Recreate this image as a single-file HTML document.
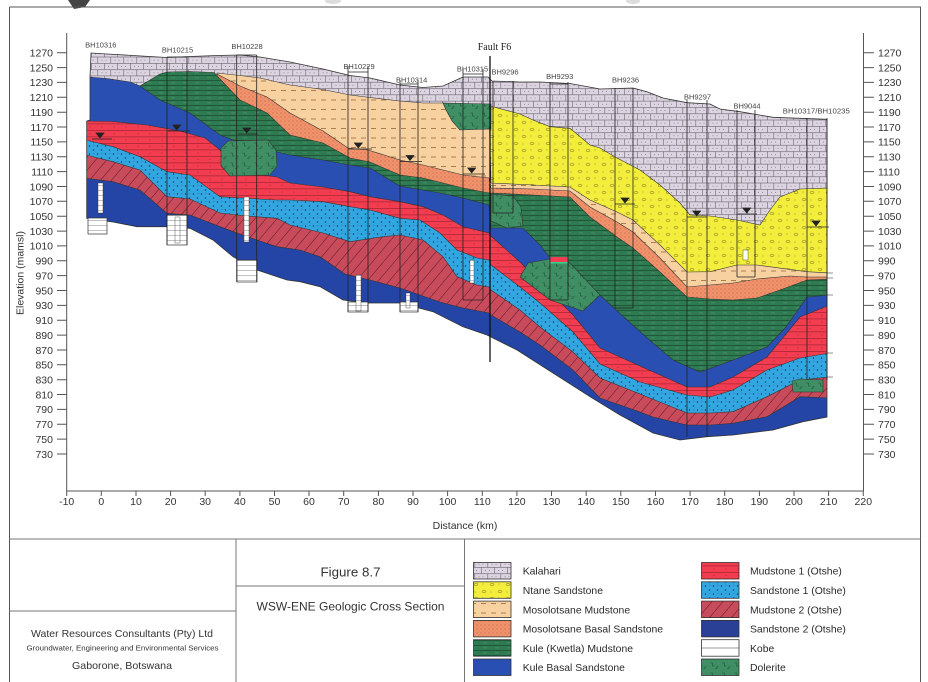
<!DOCTYPE html>
<html><head><meta charset="utf-8"><style>html,body{margin:0;padding:0;background:#fff}svg{display:block}</style></head>
<body>
<svg width="928" height="682" viewBox="0 0 928 682" xmlns="http://www.w3.org/2000/svg" font-family="Liberation Sans, Arial, sans-serif">
<defs>
<pattern id="pK" width="26" height="12.6" patternUnits="userSpaceOnUse">
<rect width="26" height="12.6" fill="#dcd4e0"/>
<path d="M0 0.3H26M0 6.6H26M0.3 0V6.3M13.3 0V6.3M6.8 6.3V12.6M19.8 6.3V12.6" stroke="#6b6670" stroke-width="0.6" fill="none"/>
<path d="M4 3.5h1M8 3.5h1M17 3.5h1M21 3.5h1M10.5 9.8h1M14.5 9.8h1M23.5 9.8h1M1.5 9.8h1" stroke="#7a7580" stroke-width="0.8"/>
</pattern>
<pattern id="pY" width="16" height="14" patternUnits="userSpaceOnUse">
<rect width="16" height="14" fill="#f3ee3c"/>
<ellipse cx="4" cy="3.5" rx="2" ry="1.1" fill="none" stroke="#7a7020" stroke-width="0.5"/>
<ellipse cx="12" cy="10.5" rx="2" ry="1.1" fill="none" stroke="#7a7020" stroke-width="0.5"/>
<circle cx="11" cy="4" r="0.5" fill="#7a7020"/><circle cx="3" cy="10" r="0.5" fill="#7a7020"/>
</pattern>
<pattern id="pT" width="10" height="9.5" patternUnits="userSpaceOnUse"><rect width="10" height="9.5" fill="#f8d1a0"/><path d="M1 5H6" stroke="#8b5a2b" stroke-width="0.7"/></pattern>
<pattern id="pO" width="4" height="4" patternUnits="userSpaceOnUse"><rect width="4" height="4" fill="#f0936c"/><circle cx="1" cy="1" r="0.5" fill="#a4492e"/><circle cx="3" cy="3" r="0.4" fill="#c46a4a"/></pattern>
<pattern id="pG" width="12" height="5" patternUnits="userSpaceOnUse"><rect width="12" height="5" fill="#2e7b52"/><path d="M0 0.4H12" stroke="#1a4a30" stroke-width="0.7"/><path d="M3 2.9H7" stroke="#5c9a76" stroke-width="0.5"/></pattern>
<pattern id="pR" width="12" height="6.5" patternUnits="userSpaceOnUse"><rect width="12" height="6.5" fill="#f23d50"/><path d="M0 0.4H12" stroke="#9a1f2e" stroke-width="0.6"/><circle cx="6" cy="3.5" r="0.45" fill="#9a1f2e"/></pattern>
<pattern id="pC" width="8" height="8" patternUnits="userSpaceOnUse"><rect width="8" height="8" fill="#31a7e1"/><circle cx="1.5" cy="2" r="0.75" fill="#123a6e"/><circle cx="5.5" cy="6" r="0.75" fill="#123a6e"/><circle cx="6" cy="1.5" r="0.4" fill="#123a6e"/></pattern>
<pattern id="pD" width="11" height="13" patternUnits="userSpaceOnUse"><rect width="11" height="13" fill="#c84b5b"/><path d="M0 13L11 0" stroke="#6e2030" stroke-width="0.6"/></pattern>
<pattern id="pDo" width="12" height="10" patternUnits="userSpaceOnUse"><rect width="12" height="10" fill="#3f8e64"/><path d="M2 3h2.5v3h2.5" stroke="#1e5538" stroke-width="0.6" fill="none"/><path d="M7 8.5h2v-2h1.5" stroke="#1e5538" stroke-width="0.6" fill="none"/></pattern>
<pattern id="pW" width="6" height="5" patternUnits="userSpaceOnUse"><rect width="6" height="5" fill="#fff"/><path d="M0 0.5H6" stroke="#999" stroke-width="0.6"/></pattern>
<clipPath id="sec"><polygon points="91,53 107,54 133,55.5 150,56.5 167,57.5 190,56.5 217,55.5 240,55 260,57 290,62 323,69 350,75.5 370,78 400,85 423,87.5 443,86 463,77 488,77 492,81 520,82 540,82 570,83.5 600,89 633,88 647,91.7 663,98 687,102.7 710,104 720,109 740,111.7 773,117.3 800,118.3 827,119.3 827,417 803,421.7 773,430 733,435 707,436.7 680,440 653,433 620,415 590,396.7 553,373 517,350 487,335 463,326.7 433,311.7 400,303 367,303 343,300 320,286.7 300,281.7 287,280 257,270 233,256.7 213,240 190,228.3 167,226.7 137,226.7 113,222 86.7,218.3 86.7,121 90,120 90,77"/></clipPath>
</defs>
<rect width="928" height="682" fill="#fff"/>
<!-- top logo remnants -->
<path d="M68 0H90L85 7L74 9Z" fill="#444"/>
<ellipse cx="333" cy="1" rx="8" ry="3" fill="#ddd"/>
<ellipse cx="633" cy="1" rx="7" ry="3" fill="#ddd"/>
<!-- frame -->
<g stroke="#555" stroke-width="1" fill="none">
<path d="M9.5 7H921M9.5 7V682M920.5 7V682"/>
<path d="M9.5 539H920.5M236 539V682M464.5 539V682M9.5 611H236M236 586H464.5" stroke="#777"/>
</g>
<!-- section -->
<g clip-path="url(#sec)" stroke="#333" stroke-width="0.6">
<rect x="80" y="40" width="760" height="420" fill="url(#pK)" stroke="none"/>
<polygon fill="url(#pY)" points="490,106 520,114 533,120 550,126.7 570,128.3 590,145 600,148 617,158 640,170 660,185 680,203 690,215 710,216 737,220 760,225 770,210 780,197 800,189 830,188 830,460 490,460"/>
<polygon fill="url(#pT)" points="217,73 240,75.5 260,78 290,85 323,89.5 350,95 370,97.5 400,101 423,103 443,103 463,104 489,105 491,183 533,185 570,187 590,200 617,212 633,220 660,245 687,272 710,271.7 737,265 757,265 807,271.7 830,273 830,460 217,460"/>
<polygon fill="url(#pO)" points="217,74 240,86 267,97 290,113 323,131 348,148 368,150 400,160 423,165 463,175 489,178 491,188 533,189 570,191 590,207 617,222 633,232 660,258 687,287 733,283 757,279 790,276 807,277 830,277 830,460 217,460"/>
<polygon fill="url(#pG)" points="140,86 150,80 160,74 167,72 190,71.5 214,72.5 240,100 267,113 290,135 323,143 350,158 370,162 400,175 423,178 463,188 489,193 491,193 533,195 570,197 590,217 617,237 633,248 660,272 687,297 710,299 733,300 757,298 780,290 807,280 830,279 830,460 140,460"/>
<polygon fill="#2a4fb3" points="88,77 107,78.5 130,82 140,86 160,100 190,113 220,135 233,140 260,143 277,152 290,155 323,160 350,165 370,168 400,186 440,193 463,198 489,205 491,228 523,228 540,245 550,258 600,295 627,320 653,343 673,360 700,372 733,360 767,347 786,327 800,307 807,297 830,295 830,460 86,460"/>
<polygon fill="url(#pR)" points="86,121 113,121.5 147,125 180,131 205,138 220,150 240,172 277,177 290,183 323,187 350,191.7 370,196.7 400,201.7 423,206.7 443,215 463,226.7 489,233 491,236 520,262 540,282 573,315 600,348 640,366 687,387 710,387 733,377 767,357 800,317 830,305 830,460 86,460"/>
<polygon fill="url(#pC)" points="86,140 113,146.7 140,156.7 167,171.7 190,175 220,196.7 247,198.3 277,200 290,200 323,201.7 350,206.7 370,210 400,218.3 420,220 440,233 457,250 477,258 489,260 491,265 520,287 540,303 573,332 600,364 640,382 687,395 710,397 733,390 767,370 800,358 830,353 830,460 86,460"/>
<polygon fill="url(#pD)" points="86,155 113,161.7 140,170 167,196.7 190,199 220,213 247,216 277,218.3 290,225 323,233 350,241.7 383,236.7 400,235 423,240 443,256.7 457,276.7 477,285 489,287 491,290 520,310 540,327 573,352 600,378 640,394 687,413 710,413 733,411.7 767,396.7 800,380 830,377 830,460 86,460"/>
<polygon fill="#2445a6" points="86,178.3 113,181.7 140,190 167,213.3 190,215 220,226.7 247,236.7 277,246.7 300,250 320,256.7 345,274 370,280 400,288 440,302 463,308 489,313 491,315 520,332 540,345 573,370 600,398 620,405 640,412 653,417 687,425 710,425 733,423.3 767,416.7 800,396.7 830,398 830,460 86,460"/>
<polygon fill="url(#pDo)" points="221,148 228,141 268,140 276,150 277,166 270,175 230,176 221,166"/>
<polygon fill="url(#pDo)" points="443,103 491,104 491,129 460,130 452,121 446,110"/>
<polygon fill="url(#pDo)" points="491,194 513,196 521,207 523,226 507,228 491,221"/>
<polygon fill="url(#pDo)" points="520,277 528,263 550,259 570,263 600,295 583,311 550,300"/>
<polygon fill="url(#pDo)" points="792,381 800,379 823,380 823,392 793,392"/>
<rect x="550" y="257" width="18" height="5" fill="#f23d50" stroke="none"/>
<rect x="550" y="262" width="18" height="1.5" fill="#3fcf8a" stroke="none"/>
</g>
<polygon fill="none" stroke="#333" stroke-width="0.8" points="91,53 107,54 133,55.5 150,56.5 167,57.5 190,56.5 217,55.5 240,55 260,57 290,62 323,69 350,75.5 370,78 400,85 423,87.5 443,86 463,77 488,77 492,81 520,82 540,82 570,83.5 600,89 633,88 647,91.7 663,98 687,102.7 710,104 720,109 740,111.7 773,117.3 800,118.3 827,119.3 827,417 803,421.7 773,430 733,435 707,436.7 680,440 653,433 620,415 590,396.7 553,373 517,350 487,335 463,326.7 433,311.7 400,303 367,303 343,300 320,286.7 300,281.7 287,280 257,270 233,256.7 213,240 190,228.3 167,226.7 137,226.7 113,222 86.7,218.3 86.7,121 90,120 90,77"/>
<!-- kobe boxes & white bars -->
<g stroke="#333" stroke-width="0.7">
<rect x="88" y="218" width="19" height="16" fill="url(#pW)"/>
<rect x="167" y="215" width="20" height="30" fill="url(#pW)"/>
<rect x="237" y="260" width="20" height="22" fill="url(#pW)"/>
<rect x="348" y="302" width="20" height="10" fill="url(#pW)"/>
<rect x="400" y="302" width="18" height="10" fill="url(#pW)"/>
<rect x="98" y="183" width="5" height="30" fill="url(#pW)" stroke-width="0.4"/>
<rect x="175" y="217" width="5" height="26" fill="url(#pW)" stroke-width="0.4"/>
<rect x="244" y="197" width="5" height="45" fill="url(#pW)" stroke-width="0.4"/>
<rect x="356" y="275" width="5" height="36" fill="url(#pW)" stroke-width="0.4"/>
<rect x="406" y="293" width="4" height="15" fill="url(#pW)" stroke-width="0.4"/>
<rect x="470" y="260" width="4" height="23" fill="url(#pW)" stroke-width="0.4"/>
<rect x="743" y="250" width="5" height="10" fill="#fff" stroke-width="0.4"/>
</g>
<!-- borehole lines -->
<g stroke="#222" stroke-width="0.8" fill="none">
<path d="M167 57V245M187 57V245M167 57H187"/>
<path d="M236.7 55V282M256.7 55V282M236.7 55H256.7"/>
<path d="M348 66V312M368 66V312M348 72H368"/>
<path d="M400 80V312M418 80V312M400 84H418"/>
<path d="M463 69V300M483 69V300M463 74H483M463 300H483"/>
<path d="M493 81V213M513 81V213M493 213H513"/>
<path d="M550 82V300M568 82V300M550 84H568M550 300H568"/>
<path d="M615 88V308M633 88V308M615 308H633"/>
<path d="M687 100V437M707 100V437"/>
<path d="M737 110V277M755 110V277M737 277H755"/>
<path d="M807 118V380M827 118V380"/>
<path d="M827 273H833M827 278H833M827 295H833M827 353H833M827 377H833" stroke-width="0.6"/>
</g>
<!-- fault -->
<path d="M490 56V362" stroke="#111" stroke-width="1.3"/>
<!-- water levels -->
<g fill="#222" stroke="#222" stroke-width="0.7">
<path d="M96 133H104L100 138Z"/><path d="M92 139H112" fill="none"/>
<path d="M172.7 125H180.7L176.7 130Z"/><path d="M168 131H190" fill="none"/>
<path d="M242.7 128H250.7L246.7 133Z"/><path d="M238 134H258" fill="none"/>
<path d="M354.3 143H362.3L358.3 148Z"/><path d="M348 149H372" fill="none"/>
<path d="M406 155.5H414L410 160.5Z"/><path d="M400 161.5H422" fill="none"/>
<path d="M467.7 168H475.7L471.7 173Z"/><path d="M463 174H485" fill="none"/>
<path d="M621 198H629L625 203Z"/><path d="M615 204H635" fill="none"/>
<path d="M692.7 211H700.7L696.7 216Z"/><path d="M687 217H707" fill="none"/>
<path d="M742.7 208H750.7L746.7 213Z"/><path d="M737 214H757" fill="none"/>
<path d="M812 221H820L816 226Z"/><path d="M807 227H829" fill="none"/>
</g>
<!-- borehole labels -->
<g font-size="7.5" fill="#444" text-anchor="middle">
<text x="100.8" y="47.3">BH10316</text>
<text x="177.5" y="52.7">BH10215</text>
<text x="247" y="49">BH10228</text>
<text x="359" y="69">BH10229</text>
<text x="411.7" y="82.7">BH10314</text>
<text x="472.5" y="71.7">BH10315</text>
<text x="505" y="74.3">BH9296</text>
<text x="559.7" y="79">BH9293</text>
<text x="625.5" y="82.7">BH9236</text>
<text x="697.5" y="99.3">BH9297</text>
<text x="747" y="108.3">BH9044</text>
<text x="816.3" y="113.3" textLength="67" lengthAdjust="spacingAndGlyphs">BH10317/BH10235</text>
</g>
<text x="494.5" y="50" font-family="Liberation Serif, serif" font-size="10" fill="#222" text-anchor="middle">Fault F6</text>
<!-- axes -->
<g stroke="#555" stroke-width="1" fill="none">
<path d="M66.7 33V491M863.5 33V491M66.7 491H863.5"/>
<path d="M57 52.7H67M57 67.6H67M57 82.4H67M57 97.3H67M57 112.2H67M57 127H67M57 141.9H67M57 156.7H67M57 171.6H67M57 186.5H67M57 201.3H67M57 216.2H67M57 231.1H67M57 245.9H67M57 260.8H67M57 275.6H67M57 290.5H67M57 305.4H67M57 320.2H67M57 335.1H67M57 350H67M57 364.8H67M57 379.7H67M57 394.5H67M57 409.4H67M57 424.3H67M57 439.1H67M57 454H67"/>
<path d="M863 52.7H874M863 67.6H874M863 82.4H874M863 97.3H874M863 112.2H874M863 127H874M863 141.9H874M863 156.7H874M863 171.6H874M863 186.5H874M863 201.3H874M863 216.2H874M863 231.1H874M863 245.9H874M863 260.8H874M863 275.6H874M863 290.5H874M863 305.4H874M863 320.2H874M863 335.1H874M863 350H874M863 364.8H874M863 379.7H874M863 394.5H874M863 409.4H874M863 424.3H874M863 439.1H874M863 454H874"/>
<path d="M66.7 491V496M101.3 491V496M136 491V496M170.6 491V496M205.2 491V496M239.9 491V496M274.5 491V496M309 491V496M343.7 491V496M378.4 491V496M413 491V496M447.6 491V496M482.3 491V496M516.9 491V496M551.5 491V496M586.2 491V496M620.8 491V496M655.5 491V496M690.1 491V496M724.7 491V496M759.4 491V496M794 491V496M828.6 491V496M863.3 491V496"/>
</g>
<g font-size="10.5" fill="#333">
<text text-anchor="end"><tspan x="53" y="56.5">1270</tspan><tspan x="53" y="71.4">1250</tspan><tspan x="53" y="86.2">1230</tspan><tspan x="53" y="101.1">1210</tspan><tspan x="53" y="116">1190</tspan><tspan x="53" y="130.8">1170</tspan><tspan x="53" y="145.7">1150</tspan><tspan x="53" y="160.5">1130</tspan><tspan x="53" y="175.4">1110</tspan><tspan x="53" y="190.3">1090</tspan><tspan x="53" y="205.1">1070</tspan><tspan x="53" y="220">1050</tspan><tspan x="53" y="234.9">1030</tspan><tspan x="53" y="249.7">1010</tspan><tspan x="53" y="264.6">990</tspan><tspan x="53" y="279.4">970</tspan><tspan x="53" y="294.3">950</tspan><tspan x="53" y="309.2">930</tspan><tspan x="53" y="324">910</tspan><tspan x="53" y="338.9">890</tspan><tspan x="53" y="353.8">870</tspan><tspan x="53" y="368.6">850</tspan><tspan x="53" y="383.5">830</tspan><tspan x="53" y="398.3">810</tspan><tspan x="53" y="413.2">790</tspan><tspan x="53" y="428.1">770</tspan><tspan x="53" y="442.9">750</tspan><tspan x="53" y="457.8">730</tspan></text>
<text text-anchor="start"><tspan x="878" y="56.5">1270</tspan><tspan x="878" y="71.4">1250</tspan><tspan x="878" y="86.2">1230</tspan><tspan x="878" y="101.1">1210</tspan><tspan x="878" y="116">1190</tspan><tspan x="878" y="130.8">1170</tspan><tspan x="878" y="145.7">1150</tspan><tspan x="878" y="160.5">1130</tspan><tspan x="878" y="175.4">1110</tspan><tspan x="878" y="190.3">1090</tspan><tspan x="878" y="205.1">1070</tspan><tspan x="878" y="220">1050</tspan><tspan x="878" y="234.9">1030</tspan><tspan x="878" y="249.7">1010</tspan><tspan x="878" y="264.6">990</tspan><tspan x="878" y="279.4">970</tspan><tspan x="878" y="294.3">950</tspan><tspan x="878" y="309.2">930</tspan><tspan x="878" y="324">910</tspan><tspan x="878" y="338.9">890</tspan><tspan x="878" y="353.8">870</tspan><tspan x="878" y="368.6">850</tspan><tspan x="878" y="383.5">830</tspan><tspan x="878" y="398.3">810</tspan><tspan x="878" y="413.2">790</tspan><tspan x="878" y="428.1">770</tspan><tspan x="878" y="442.9">750</tspan><tspan x="878" y="457.8">730</tspan></text>
<text text-anchor="middle"><tspan x="66.7" y="505">-10</tspan><tspan x="101.3" y="505">0</tspan><tspan x="136" y="505">10</tspan><tspan x="170.6" y="505">20</tspan><tspan x="205.2" y="505">30</tspan><tspan x="239.9" y="505">40</tspan><tspan x="274.5" y="505">50</tspan><tspan x="309" y="505">60</tspan><tspan x="343.7" y="505">70</tspan><tspan x="378.4" y="505">80</tspan><tspan x="413" y="505">90</tspan><tspan x="447.6" y="505">100</tspan><tspan x="482.3" y="505">110</tspan><tspan x="516.9" y="505">120</tspan><tspan x="551.5" y="505">130</tspan><tspan x="586.2" y="505">140</tspan><tspan x="620.8" y="505">150</tspan><tspan x="655.5" y="505">160</tspan><tspan x="690.1" y="505">170</tspan><tspan x="724.7" y="505">180</tspan><tspan x="759.4" y="505">190</tspan><tspan x="794" y="505">200</tspan><tspan x="828.6" y="505">210</tspan><tspan x="863.3" y="505">220</tspan></text>
<text x="465" y="529" text-anchor="middle">Distance (km)</text>
<text transform="translate(23.7,273) rotate(-90)" text-anchor="middle">Elevation (mamsl)</text>
</g>
<!-- title block -->
<g fill="#333" text-anchor="middle">
<text x="350.5" y="576.5" font-size="13" textLength="60" lengthAdjust="spacingAndGlyphs">Figure 8.7</text>
<text x="350.5" y="610.5" font-size="12" textLength="188" lengthAdjust="spacingAndGlyphs">WSW-ENE Geologic Cross Section</text>
<text x="122" y="637" font-size="10.5" textLength="182" lengthAdjust="spacingAndGlyphs">Water Resources Consultants (Pty) Ltd</text>
<text x="122.5" y="650.5" font-size="7.2" textLength="192" lengthAdjust="spacingAndGlyphs">Groundwater, Engineering and Environmental Services</text>
<text x="122" y="669" font-size="10.5" textLength="100" lengthAdjust="spacingAndGlyphs">Gaborone, Botswana</text>
</g>
<!-- legend -->
<g stroke="#333" stroke-width="0.8">
<rect x="473.5" y="562.5" width="37.5" height="16.5" fill="url(#pK)"/>
<rect x="473.5" y="581.8" width="37.5" height="16.5" fill="url(#pY)"/>
<rect x="473.5" y="601.1" width="37.5" height="16.5" fill="url(#pT)"/>
<rect x="473.5" y="620.4" width="37.5" height="16.5" fill="url(#pO)"/>
<rect x="473.5" y="639.7" width="37.5" height="16.5" fill="url(#pG)"/>
<rect x="473.5" y="659" width="37.5" height="16.5" fill="#2a4fb3"/>
<rect x="701.5" y="562.5" width="37.5" height="16.5" fill="url(#pR)"/>
<rect x="701.5" y="581.8" width="37.5" height="16.5" fill="url(#pC)"/>
<rect x="701.5" y="601.1" width="37.5" height="16.5" fill="url(#pD)"/>
<rect x="701.5" y="620.4" width="37.5" height="16.5" fill="#2a4096"/>
<rect x="701.5" y="639.7" width="37.5" height="16.5" fill="#fff"/>
<path d="M701.5 648H739" stroke-width="0.6"/>
<rect x="701.5" y="659" width="37.5" height="16.5" fill="url(#pDo)"/>
</g>
<g font-size="10.4" fill="#2a2a2a">
<text x="522.7" y="574.7">Kalahari</text>
<text x="522.7" y="594">Ntane Sandstone</text>
<text x="522.7" y="613.3">Mosolotsane Mudstone</text>
<text x="522.7" y="632.6">Mosolotsane Basal Sandstone</text>
<text x="522.7" y="651.9">Kule (Kwetla) Mudstone</text>
<text x="522.7" y="671.2">Kule Basal Sandstone</text>
<text x="750" y="574.7">Mudstone 1 (Otshe)</text>
<text x="750" y="594">Sandstone 1 (Otshe)</text>
<text x="750" y="613.3">Mudstone 2 (Otshe)</text>
<text x="750" y="632.6">Sandstone 2 (Otshe)</text>
<text x="750" y="651.9">Kobe</text>
<text x="750" y="671.2">Dolerite</text>
</g>
</svg>
</body></html>
